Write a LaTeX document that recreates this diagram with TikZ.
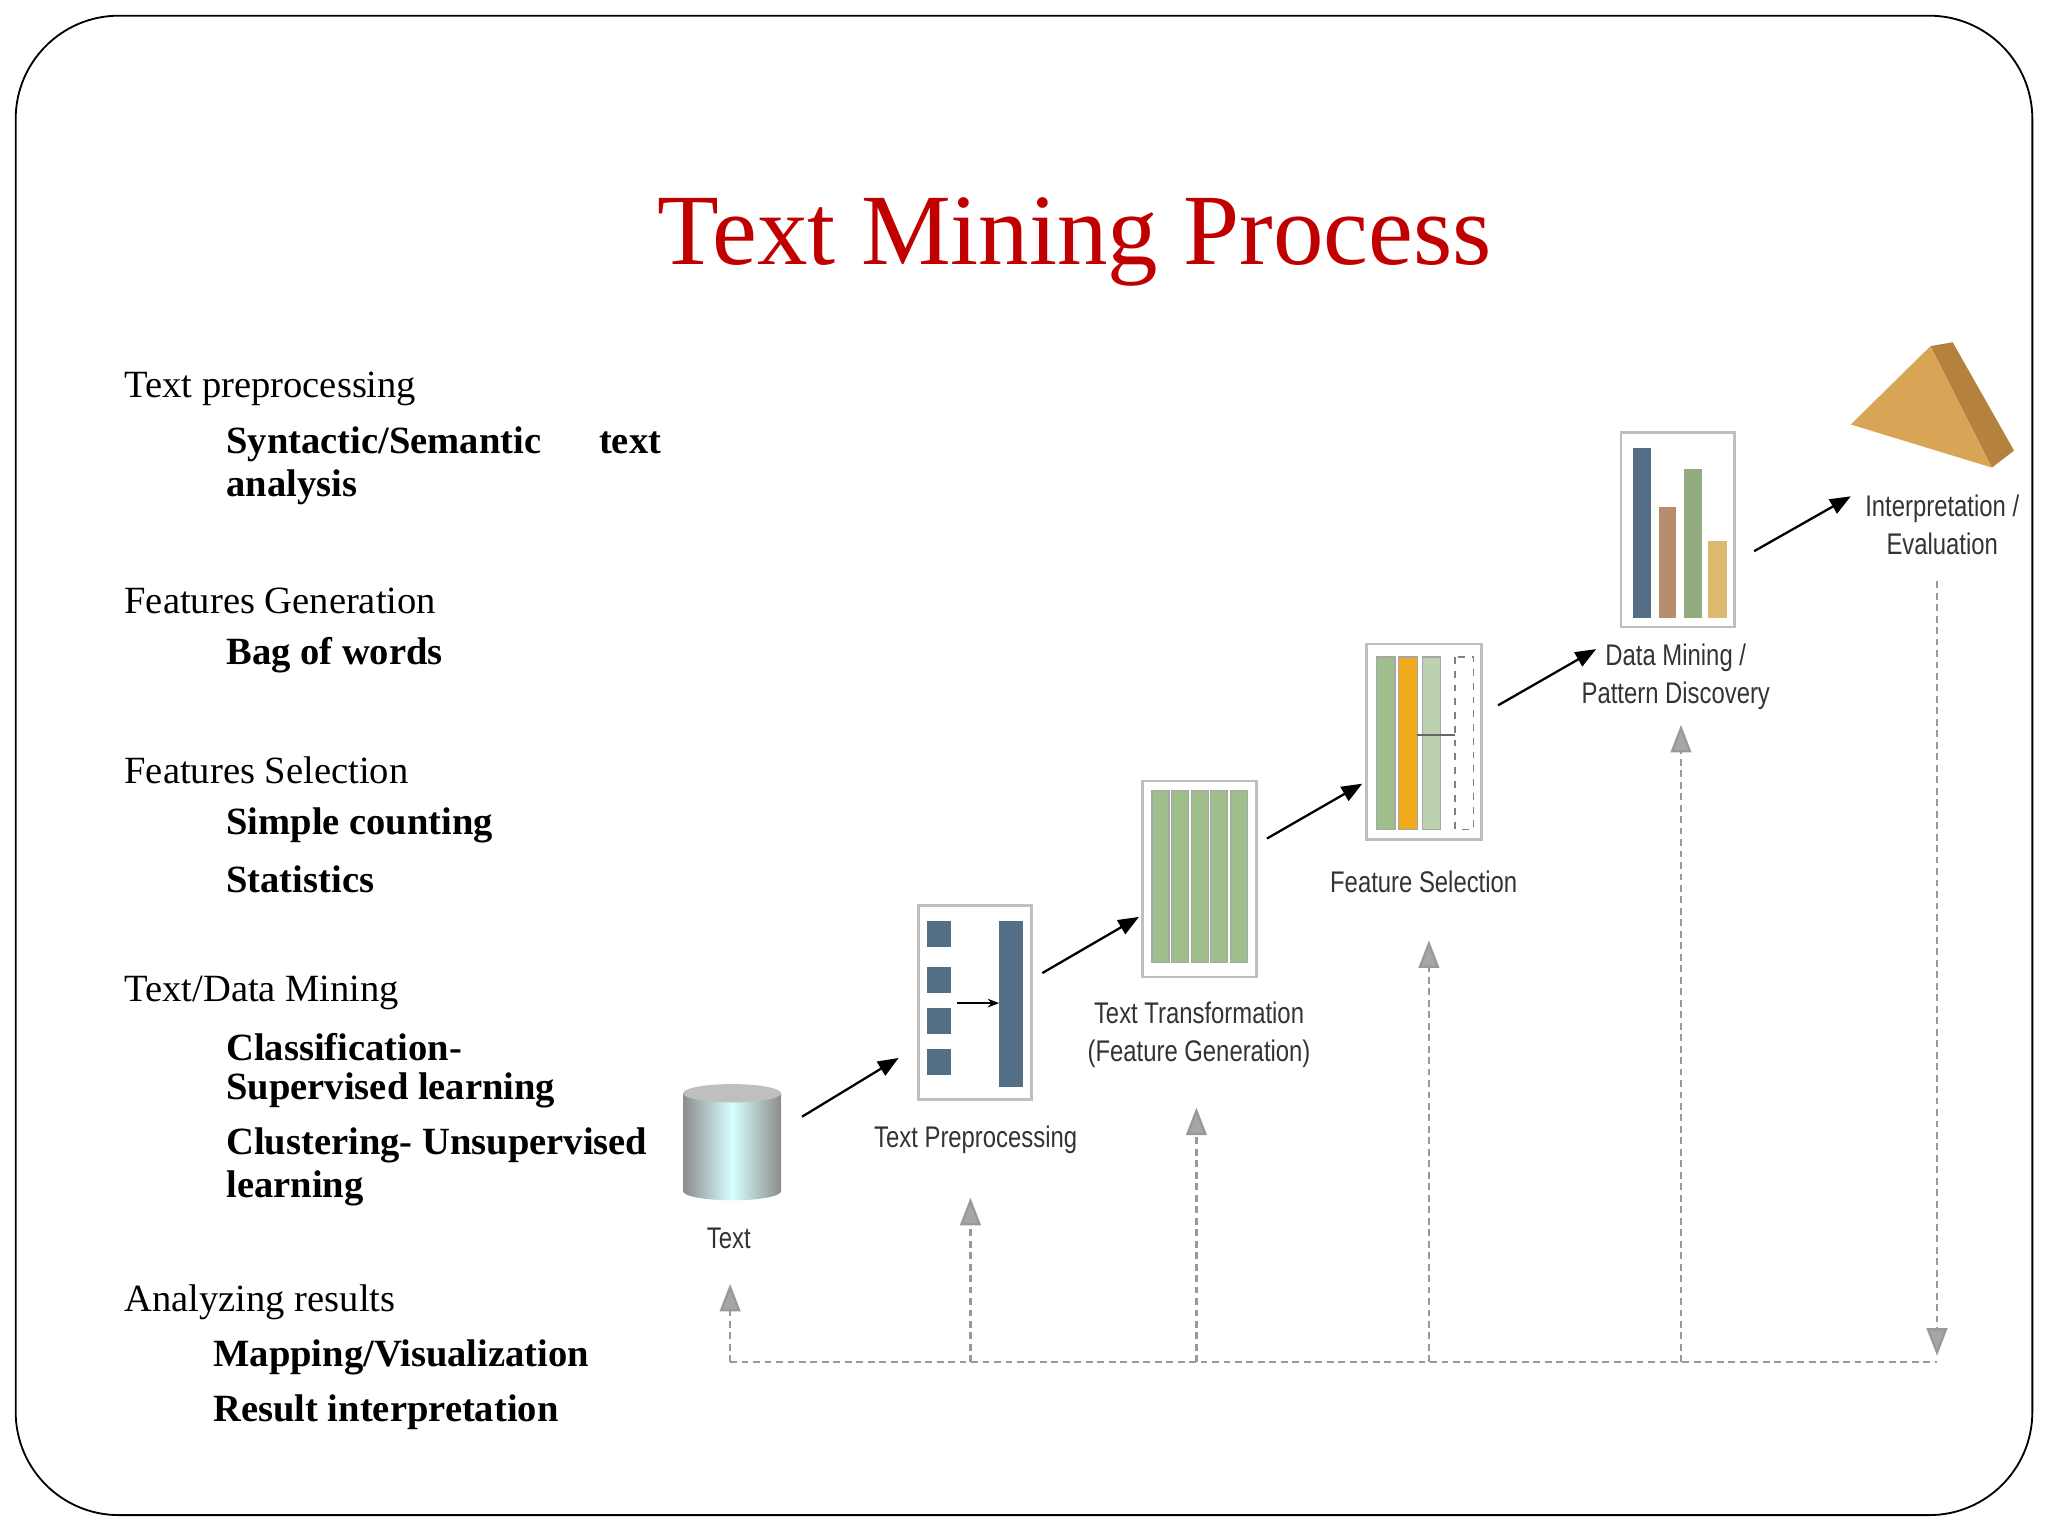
\documentclass[tikz,border=0pt]{standalone}
\usepackage{fontspec}
\setmainfont{Liberation Serif}
\newfontfamily\lab{Liberation Sans}
\usetikzlibrary{arrows.meta}
\definecolor{ttl}{RGB}{192,0,0}
\definecolor{bblue}{RGB}{84,110,134}
\definecolor{bgreen}{RGB}{160,190,140}
\definecolor{borange}{RGB}{240,170,30}
\definecolor{bbrown}{RGB}{185,140,110}
\definecolor{btan}{RGB}{220,185,110}
\definecolor{pyr}{RGB}{215,165,85}
\definecolor{pyrd}{RGB}{180,130,60}
\tikzset{
 plain/.style={anchor=west,inner sep=0pt,font=\fontsize{16.8}{18}\selectfont},
 bld/.style={anchor=west,inner sep=0pt,font=\fontsize{16.8}{18}\selectfont\bfseries},
 lbl/.style={font=\lab\fontsize{13}{16.5}\selectfont,xscale=0.8,text=black!80},
 frame/.style={draw=black!25,fill=white,line width=1.2pt},
 bar/.style={draw=black!35,line width=0.5pt},
 flow/.style={-{Triangle[length=9pt,width=7pt]},line width=1pt},
 fb/.style={densely dashed,draw=black!40,line width=1pt},
 fbtip/.style={fb,-{Triangle[length=12pt,width=9pt,fill=black!35]},solid},
}
\begin{document}
\begin{tikzpicture}[x=0.02cm,y=-0.02cm]
\useasboundingbox (0,0) rectangle (1568,1176);
\draw[rounded corners=45pt,line width=0.8pt] (12,12) rectangle (1556,1160);
\node[text=ttl,font=\fontsize{44}{48}\selectfont] (title) at (823,185) {Text Mining Process};
% left text
\node[plain] (t1) at (95,298) {Text preprocessing};
\node[bld] (t1a) at (173,340) {Syntactic/Semantic\hspace{1.5em}text};
\node[bld] (t1b) at (173,373) {analysis};
\node[plain] (t2) at (95,460) {Features Generation};
\node[bld] (t2a) at (173,502) {Bag of words};
\node[plain] (t3) at (95,590) {Features Selection};
\node[bld] (t3a) at (173,632) {Simple counting};
\node[bld] (t3b) at (173,673) {Statistics};
\node[plain] (t4) at (95,760) {Text/Data Mining};
\node[bld] (t4a) at (173,802) {Classification-};
\node[bld] (t4b) at (173,835) {Supervised learning};
\node[bld] (t4c) at (173,877) {Clustering- Unsupervised};
\node[bld] (t4d) at (173,910) {learning};
\node[plain] (t5) at (95,997) {Analyzing results};
\node[bld] (t5a) at (163,1039) {Mapping/Visualization};
\node[bld] (t5b) at (163,1081) {Result interpretation};
% cylinder
\shade[left color=black!45,right color=black!45,middle color=white!85!cyan] (523,837) rectangle (598,912);
\shade[left color=black!45,right color=black!45,middle color=white!85!cyan] (523,912) arc[start angle=180,end angle=360,x radius=37.5,y radius=-7] -- cycle;
\fill[black!25] (560.5,837) ellipse[x radius=37.5,y radius=7];
\coordinate (cyl) at (560,875);
\node[lbl] (ltext) at (558,948) {Text};
% Text preprocessing box
\draw[frame] (703,693) rectangle (790,842);
\foreach \y in {705,740,772,803} \fill[bblue] (710,\y) rectangle (728,\y+20);
\fill[bblue] (765,705) rectangle (783,832);
\draw[-{Stealth[length=5pt]},line width=0.8pt] (733,768) -- (765,768);
\coordinate (b1) at (746,768);
\node[lbl] (l1) at (747,873) {Text Preprocessing};
% Text transformation box
\draw[frame] (875,598) rectangle (962,748);
\foreach \x in {882,897,912,927,942} \draw[bar,fill=bgreen] (\x,605) rectangle (\x+13,737);
\node[lbl,align=center] (l2) at (918,792) {Text Transformation\\(Feature Generation)};
% Feature selection
\draw[frame] (1046,493) rectangle (1134,643);
\draw[bar,fill=bgreen] (1054,503) rectangle (1068,635);
\draw[bar,fill=borange] (1071,503) rectangle (1085,635);
\draw[bar,fill=bgreen!70!white] (1089,503) rectangle (1103,635);
\draw[bar,dashed,draw=black!50] (1114,503) rectangle (1128,635);
\draw[black!60,line width=0.8pt] (1085,563) -- (1114,563);
\node[lbl] (l3) at (1090,675) {Feature Selection};
% Data mining
\draw[frame] (1241,331) rectangle (1328,480);
\fill[bblue] (1250,343) rectangle (1264,473);
\fill[bbrown] (1270,388) rectangle (1283,473);
\fill[bgreen!90!black] (1289,359) rectangle (1303,473);
\fill[btan] (1308,414) rectangle (1322,473);
\node[lbl,align=center] (l4) at (1283,518) {Data Mining /\\Pattern Discovery};
% pyramid
\fill[pyrd] (1478,265) -- (1495,262) -- (1542,345) -- (1525,358) -- cycle;
\fill[pyr] (1417,325) -- (1478,265) -- (1525,358) -- cycle;
\node[lbl,align=center] (l5) at (1487,402) {Interpretation /\\Evaluation};
% flow arrows
\coordinate (a1s) at (614,855); \coordinate (a1e) at (688,810);
\coordinate (a2s) at (798,745); \coordinate (a2e) at (872,702);
\coordinate (a3s) at (970,642); \coordinate (a3e) at (1043,600);
\coordinate (a4s) at (1147,540); \coordinate (a4e) at (1222,497);
\coordinate (a5s) at (1343,422); \coordinate (a5e) at (1417,380);
\foreach \i in {1,...,5} \draw[flow] (a\i s) -- (a\i e);
% feedback
\coordinate (f0) at (559,1043); \coordinate (f5) at (1483,1043);
\draw[fb] (f0) -- (f5);
\coordinate (u0) at (559,983);
\coordinate (u1) at (743,917);
\coordinate (u2) at (916,848);
\coordinate (u3) at (1094,720);
\coordinate (u4) at (1287,555);
\draw[fb] (u0 |- f0) -- ([yshift=-8]u0); \draw[fbtip] ([yshift=-10]u0) -- (u0);
\draw[fb] (u1 |- f0) -- ([yshift=-8]u1); \draw[fbtip] ([yshift=-10]u1) -- (u1);
\draw[fb] (u2 |- f0) -- ([yshift=-8]u2); \draw[fbtip] ([yshift=-10]u2) -- (u2);
\draw[fb] (u3 |- f0) -- ([yshift=-8]u3); \draw[fbtip] ([yshift=-10]u3) -- (u3);
\draw[fb] (u4 |- f0) -- ([yshift=-8]u4); \draw[fbtip] ([yshift=-10]u4) -- (u4);
\coordinate (d5) at (1483,445); \coordinate (d5e) at (1483,1038);
\draw[fb] (d5) -- ([yshift=10]d5e); \draw[fbtip] ([yshift=12]d5e) -- (d5e);
\end{tikzpicture}
\end{document}
